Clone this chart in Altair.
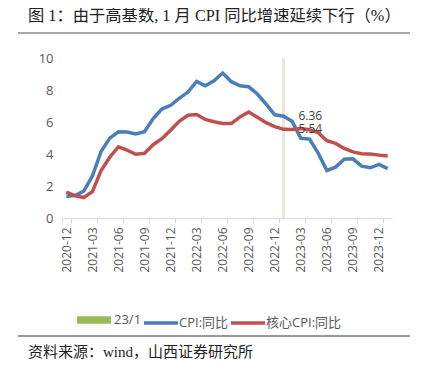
import altair as alt
import pandas as pd

months = ["2020-12",
          "2021-01", "2021-02", "2021-03", "2021-04", "2021-05", "2021-06",
          "2021-07", "2021-08", "2021-09", "2021-10", "2021-11", "2021-12",
          "2022-01", "2022-02", "2022-03", "2022-04", "2022-05", "2022-06",
          "2022-07", "2022-08", "2022-09", "2022-10", "2022-11", "2022-12",
          "2023-01", "2023-02", "2023-03", "2023-04", "2023-05", "2023-06",
          "2023-07", "2023-08", "2023-09", "2023-10", "2023-11", "2023-12",
          "2024-01"]
cpi = [1.36, 1.40, 1.68, 2.62, 4.16, 4.99, 5.39, 5.37, 5.25, 5.39, 6.22, 6.81, 7.04,
       7.48, 7.87, 8.54, 8.26, 8.58, 9.06, 8.52, 8.26, 8.20, 7.75, 7.11, 6.45,
       6.36, 6.04, 4.98, 4.93, 4.05, 2.97, 3.18, 3.67, 3.70, 3.24, 3.14, 3.35, 3.09]
core = [1.62, 1.40, 1.28, 1.65, 2.96, 3.80, 4.45, 4.24, 3.98, 4.04, 4.58, 4.96, 5.48,
        6.04, 6.42, 6.47, 6.16, 6.02, 5.91, 5.90, 6.32, 6.63, 6.30, 5.96, 5.71,
        5.54, 5.53, 5.59, 5.52, 5.33, 4.83, 4.66, 4.35, 4.13, 4.02, 4.00, 3.93, 3.87]
tick_months = ["2020-12", "2021-03", "2021-06", "2021-09", "2021-12", "2022-03",
               "2022-06", "2022-09", "2022-12", "2023-03", "2023-06", "2023-09", "2023-12"]
y_ticks = [0, 2, 4, 6, 8, 10]
series_names = ["23/1", "CPI:同比", "核心CPI:同比"]
series_colors = ["#9bbb59", "#4a7ebb", "#c0504d"]
series_widths = [7.5, 3.5, 3.5]
marker_month = "2023-01"
marker_range = [0, 10]
ann_values = [6.36, 5.54]
ann_labels = ["6.36", "5.54"]
title_text = "图 1：由于高基数, 1 月 CPI 同比增速延续下行（%）"
source_text = "资料来源：wind，山西证券研究所"

FONT = "Open Sans, Noto Sans CJK SC, sans-serif"
SERIF = "Liberation Serif, Noto Sans CJK SC, serif"

n = len(months)
df = pd.DataFrame({
    "month": months * 2,
    "value": cpi + core,
    "series": [series_names[1]] * n + [series_names[2]] * n,
})
marker_df = pd.DataFrame({"month": [marker_month], "y0": [marker_range[0]], "y1": [marker_range[1]]})
ann_df = pd.DataFrame({"month": [marker_month] * 2, "value": ann_values, "label": ann_labels})
txt_df = pd.DataFrame({"title": [title_text], "source": [source_text]})

xscale = alt.Scale(type="band", domain=months, paddingInner=0, paddingOuter=0)
xaxis = alt.Axis(values=tick_months, tickBand="extent", labelAngle=-90,
                 labelFont=FONT, labelFontSize=12, labelColor="#595959",
                 domainColor="#d9d9d9", tickColor="#d9d9d9", tickSize=5,
                 labelPadding=4, grid=False, title=None)
yscale = alt.Scale(domain=[0, 10])
yaxis = alt.Axis(values=y_ticks, labelFont=FONT, labelFontSize=13,
                 labelColor="#595959", domain=False, ticks=False, grid=False,
                 labelOverlap=False, labelFlush=False,
                 labelPadding=9, title=None)

X = alt.X("month:N", scale=xscale, axis=xaxis, sort=months)

legend = alt.Legend(orient="none", legendX=11, legendY=241,
                    direction="horizontal", title=None,
                    symbolType="stroke", symbolSize=1156,
                    labelFont=FONT, labelFontSize=13,
                    labelColor="#595959", labelOffset={"expr": "-1"},
                    columnPadding={"expr": "-9"})

marker = alt.Chart(marker_df).mark_rule(color="#ebe7da", strokeWidth=3).encode(
    x=X,
    y=alt.Y("y0:Q", scale=yscale, axis=yaxis),
    y2="y1:Q",
)

lines = alt.Chart(df).mark_line().encode(
    x=X,
    y=alt.Y("value:Q", scale=yscale, axis=yaxis),
    color=alt.Color("series:N",
                    scale=alt.Scale(domain=series_names, range=series_colors),
                    legend=legend),
    strokeWidth=alt.StrokeWidth("series:N",
                                scale=alt.Scale(type="ordinal", domain=series_names,
                                                range=series_widths),
                                legend=legend),
)

ann = alt.Chart(ann_df).mark_text(align="left", baseline="middle", dx=15,
                                  font=FONT, fontSize=12, color="#404040").encode(
    x=X,
    y=alt.Y("value:Q", scale=yscale, axis=yaxis),
    text="label:N",
)

title = alt.Chart(txt_df).mark_text(align="left", baseline="alphabetic", font=SERIF,
                                    fontSize=16.3, color="#222222").encode(
    x=alt.value(-34), y=alt.value(-37), text="title:N")
top_rule = alt.Chart(txt_df).mark_rule(color="#8c8c8c", strokeWidth=1.5).encode(
    x=alt.value(-44), x2=alt.value(348), y=alt.value(-25))
bottom_rule = alt.Chart(txt_df).mark_rule(color="#333333", strokeWidth=1).encode(
    x=alt.value(-44), x2=alt.value(348), y=alt.value(278))
source = alt.Chart(txt_df).mark_text(align="left", baseline="alphabetic", font=SERIF,
                                     fontSize=15, color="#222222").encode(
    x=alt.value(-34), y=alt.value(299), text="source:N")

chart = alt.layer(marker, lines, ann, title, top_rule, bottom_rule, source).properties(
    width=330, height=160,
    autosize=alt.AutoSizeParams(type="none"),
    padding={"left": 54, "top": 50, "right": 20, "bottom": 150},
).configure_view(stroke=None).configure_axisY(labelOverlap=False)

chart.save("out.html", embed_options={"renderer": "svg", "actions": False})
